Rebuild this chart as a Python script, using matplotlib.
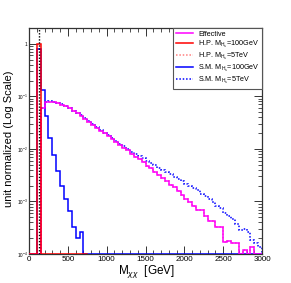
import numpy as np
import matplotlib
matplotlib.use("Agg")
import matplotlib.pyplot as plt
from matplotlib.lines import Line2D
from matplotlib.ticker import FixedLocator, FixedFormatter, LogLocator, NullFormatter, MultipleLocator

plt.rcParams['font.family'] = ['Liberation Sans', 'DejaVu Sans']
plt.rcParams['mathtext.fontset'] = 'custom'
plt.rcParams['mathtext.rm'] = 'Liberation Sans'
plt.rcParams['mathtext.it'] = 'Liberation Sans:italic'

# 60 bins of 50 GeV from 0 to 3000
edges = np.arange(0, 3001, 50)

# log10 of bin contents, None = empty bin
eff_log = [None, None, None, -1.22, -1.11, -1.10, -1.11, -1.13, -1.16, -1.19,
           -1.23, -1.27, -1.32, -1.37, -1.43, -1.48, -1.54, -1.60, -1.65, -1.70,
           -1.76, -1.81, -1.87, -1.93, -1.98, -2.03, -2.09, -2.15, -2.20, -2.24,
           -2.33, -2.37, -2.44, -2.50, -2.55, -2.62, -2.68, -2.73, -2.81, -2.88,
           -2.95, -3.02, -3.08, -3.16, -3.17, -3.28, -3.38, -3.38, -3.48, -3.48,
           -3.78, -3.76, -3.80, -3.80, None, -3.92, None, -3.87, None, None]

sm5_log = [None, None, None, -1.22, -1.10, -1.09, -1.10, -1.12, -1.15, -1.19,
           -1.23, -1.27, -1.31, -1.36, -1.42, -1.47, -1.53, -1.58, -1.64, -1.69,
           -1.74, -1.79, -1.85, -1.90, -1.95, -2.00, -2.05, -2.09, -2.14, -2.18,
           -2.23, -2.27, -2.31, -2.36, -2.40, -2.44, -2.48, -2.53, -2.58, -2.61,
           -2.66, -2.71, -2.75, -2.79, -2.85, -2.90, -2.96, -3.02, -3.08, -3.13,
           -3.22, -3.28, -3.33, -3.42, -3.55, -3.52, -3.58, -3.73, -3.80, -3.86]

hp5_log = list(eff_log)

sm100_log = [None, None, -0.10, -0.88, -1.38, -1.80, -2.11, -2.42, -2.70, -2.96,
             -3.19, -3.48, -3.69, -3.58] + [None] * 46

hp100_log = [None, None, 0.0, None, None, None, None, None, None, None,
             None, None, None, None, None]

marker_x = 130
ylo, yhi = 1e-4, 2.0

labels = ['Effective', r'H.P. M$_{\mathrm{H_s}}$=100GeV', r'H.P. M$_{\mathrm{H_s}}$=5TeV',
          r'S.M. M$_{\mathrm{H_s}}$=100GeV', r'S.M. M$_{\mathrm{H_s}}$=5TeV']


def to_vals(logs):
    return np.array([ylo if v is None else 10 ** v for v in logs])


fig = plt.figure(figsize=(2.91, 2.83), dpi=100)
ax = fig.add_axes([0.0997, 0.1025, 0.8010, 0.7986])

lw = 1.1
dot = (0, (1, 1.2))
ax.stairs(to_vals(sm100_log), edges, color='#0000ff', lw=lw, zorder=3)
ax.stairs(to_vals(hp100_log), edges[:len(hp100_log) + 1], color='#ff0000', lw=lw, zorder=4)
ax.stairs(to_vals(hp5_log), edges, color='#ff7f7f', lw=lw, ls=dot, zorder=2)
ax.stairs(to_vals(eff_log), edges, color='#ff00ff', lw=lw, zorder=3)
ax.stairs(to_vals(sm5_log), edges, color='#0000ff', lw=lw, ls=dot, zorder=2)
ax.axvline(marker_x, color='black', lw=1.0, ls=dot, zorder=5)

ax.set_yscale('log')
ax.set_xlim(0, 3000)
ax.set_ylim(ylo, yhi)

ax.xaxis.set_major_locator(MultipleLocator(500))
ax.xaxis.set_minor_locator(MultipleLocator(100))
ax.yaxis.set_major_locator(FixedLocator([1e-4, 1e-3, 1e-2, 1e-1, 1]))
ax.yaxis.set_major_formatter(FixedFormatter([r'$10^{-4}$', r'$10^{-3}$', r'$10^{-2}$',
                                             r'$10^{-1}$', '1']))
ax.yaxis.set_minor_locator(LogLocator(base=10, subs=np.arange(2, 10)))
ax.yaxis.set_minor_formatter(NullFormatter())

ax.tick_params(which='both', direction='in', top=True, right=True, color='#333333')
ax.tick_params(which='major', length=6, width=0.7)
ax.tick_params(which='minor', length=3, width=0.6)
ax.tick_params(axis='x', labelsize=5.8, pad=1.5)
ax.tick_params(axis='y', labelsize=3.4, pad=1)
for s in ax.spines.values():
    s.set_color('#333333')
    s.set_linewidth(0.9)

fig.text(0.03, 0.51, 'unit normalized (Log Scale)', rotation=90, fontsize=8,
         ha='center', va='center')
fig.text(0.505, 0.04, r'M$_{\chi\chi}$  [GeV]', fontsize=8.5, ha='center', va='center')

colors = ['#ff00ff', '#ff0000', '#ff7f7f', '#0000ff', '#0000ff']
styles = ['-', '-', dot, '-', dot]
handles = [Line2D([], [], color=c, lw=lw, ls=s) for c, s in zip(colors, styles)]
leg = ax.legend(handles, labels, loc='upper right',
                bbox_to_anchor=(1.0, 1.0), fontsize=5.2, frameon=True, fancybox=False,
                edgecolor='#555555', framealpha=1, borderaxespad=0,
                handlelength=2.4, handletextpad=0.7, labelspacing=0.15,
                borderpad=0.35)
leg.get_frame().set_linewidth(0.8)

fig.savefig('out.png', dpi=100)
